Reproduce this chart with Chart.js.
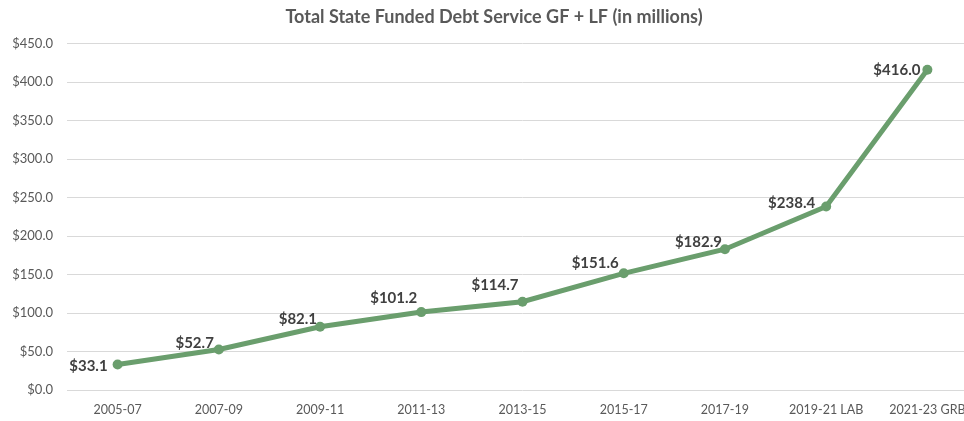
<!DOCTYPE html>
<html>
<head>
<meta charset="utf-8">
<script src="https://cdn.jsdelivr.net/npm/chart.js@4"></script>
<style>
  html, body { margin: 0; padding: 0; background: #ffffff; overflow: hidden; }
  #wrap { position: relative; width: 994px; height: 421px; }
</style>
</head>
<body>
<div id="wrap"><canvas id="debt"></canvas></div>
<script>
// Biennium labels and debt service totals (millions of dollars)
const periods = ['2005-07', '2007-09', '2009-11', '2011-13', '2013-15', '2015-17', '2017-19', '2019-21 LAB', '2021-23 GRB'];
const debtService = [33.1, 52.7, 82.1, 101.2, 114.7, 151.6, 182.9, 238.4, 416.0];
const yTickMax = 450;
const yTickStep = 50;

const fontFamily = "Lato, 'Open Sans', 'Liberation Sans', sans-serif";
const green = '#6a9e6d';

// Value labels sit to the left of each point, nudged to clear the line
const labelNudge = [
  [-10, 2], [-5, -6], [-3, -8], [-4, -14], [-4, -17],
  [-5, -10], [-3, -7], [-11, -3], [-7, 0]
];

const valueLabels = {
  id: 'valueLabels',
  afterDatasetsDraw(chart) {
    const { ctx } = chart;
    const meta = chart.getDatasetMeta(0);
    ctx.save();
    ctx.font = "bold 15px " + fontFamily;
    ctx.fillStyle = '#404040';
    ctx.textAlign = 'right';
    ctx.textBaseline = 'middle';
    meta.data.forEach((pt, i) => {
      const v = chart.data.datasets[0].data[i];
      const n = labelNudge[i] || [-6, 0];
      ctx.fillText('$' + v.toFixed(1), pt.x + n[0], pt.y + n[1]);
    });
    ctx.restore();
  }
};

new Chart(document.getElementById('debt'), {
  type: 'line',
  data: {
    labels: periods,
    datasets: [{
      data: debtService,
      borderColor: green,
      backgroundColor: green,
      borderWidth: 5,
      pointRadius: 5,
      pointHoverRadius: 5,
      pointBorderWidth: 0,
      tension: 0
    }]
  },
  options: {
    responsive: true,
    maintainAspectRatio: false,
    animation: false,
    devicePixelRatio: 1,
    layout: { padding: { left: 10, right: 16, top: 0, bottom: 0 } },
    plugins: {
      legend: { display: false },
      tooltip: { enabled: false },
      title: {
        display: true,
        text: 'Total State Funded Debt Service GF + LF (in millions)',
        color: '#595959',
        font: { family: fontFamily, size: 18, weight: 'bold', lineHeight: 1.2 },
        padding: { top: 6, bottom: 16 }
      }
    },
    scales: {
      x: {
        offset: true,
        grid: { display: false, drawTicks: false },
        border: { display: false },
        ticks: {
          color: '#595959',
          font: { family: fontFamily, size: 12.5 },
          padding: 12,
          maxRotation: 0,
          minRotation: 0,
          autoSkip: false
        },
        afterFit: scale => { scale.height = 31; }
      },
      y: {
        min: 0,
        max: yTickMax,
        grid: { color: '#d9d9d9', lineWidth: 1, drawTicks: false },
        border: { display: false },
        ticks: {
          stepSize: yTickStep,
          color: '#595959',
          font: { family: fontFamily, size: 13 },
          padding: 14,
          callback: v => '$' + Number(v).toFixed(1)
        },
        afterFit: scale => { scale.width = 57; }
      }
    }
  },
  plugins: [valueLabels]
});
</script>
</body>
</html>
